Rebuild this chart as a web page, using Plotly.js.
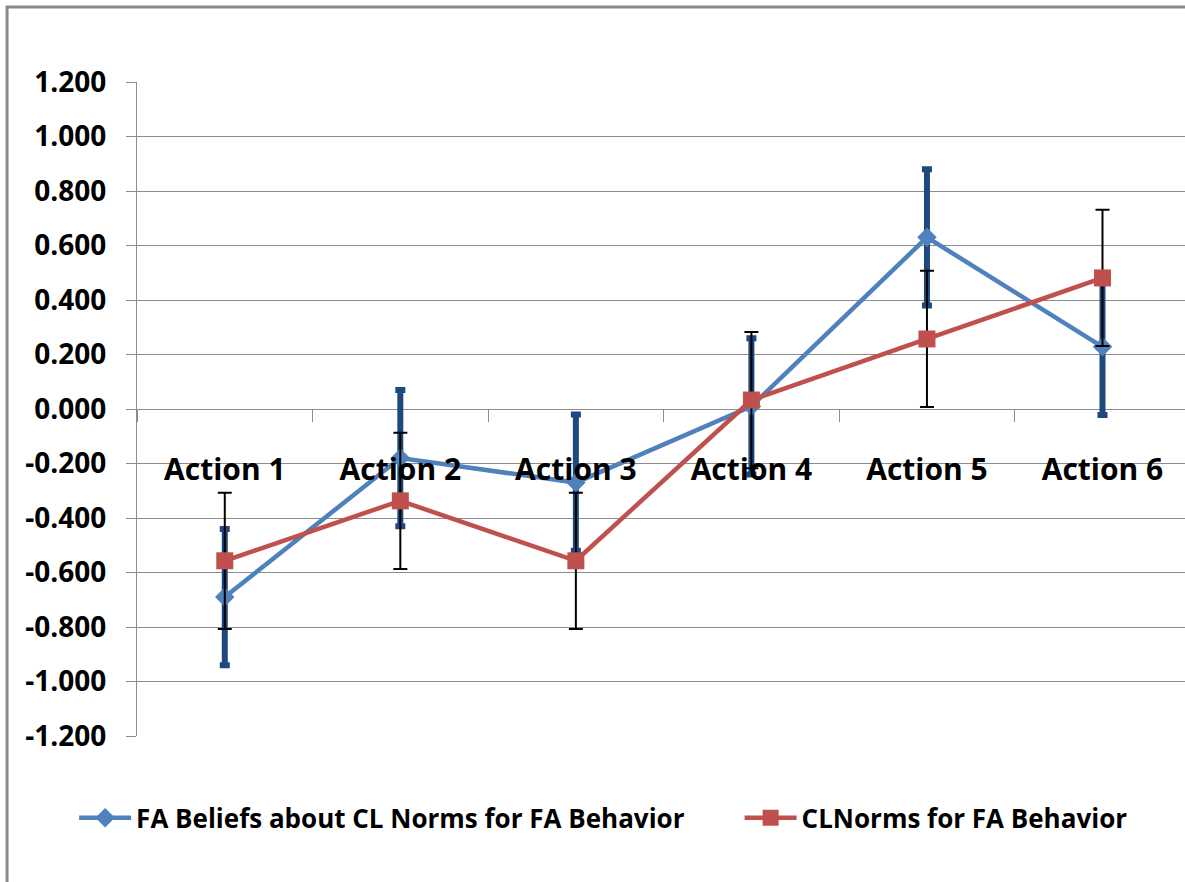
<!DOCTYPE html>
<html>
<head>
<meta charset="utf-8">
<script src="https://cdn.plot.ly/plotly-3.0.1.min.js"></script>
<style>
  html, body { margin: 0; padding: 0; background: #ffffff; }
  #chart { width: 1185px; height: 882px; }
</style>
</head>
<body>
<div id="chart"></div>
<script>
// ---- data ----
const categories = ["Action 1", "Action 2", "Action 3", "Action 4", "Action 5", "Action 6"];
const seriesNames = ["FA Beliefs about CL Norms for FA Behavior", "CLNorms for FA Behavior"];
const beliefValues = [-0.690, -0.180, -0.270, 0.010, 0.630, 0.228];
const beliefErrors = [0.25, 0.25, 0.25, 0.25, 0.25, 0.25];
const normValues = [-0.557, -0.337, -0.557, 0.033, 0.257, 0.481];
const normErrors = [0.25, 0.25, 0.25, 0.25, 0.25, 0.25];
const yTickVals = [-1.2, -1.0, -0.8, -0.6, -0.4, -0.2, 0.0, 0.2, 0.4, 0.6, 0.8, 1.0, 1.2];
const yTickText = ["-1.200", "-1.000", "-0.800", "-0.600", "-0.400", "-0.200", "0.000",
                   "0.200", "0.400", "0.600", "0.800", "1.000", "1.200"];

const FONT = "'Open Sans', Lato, sans-serif";
const GRID = "#8c8c8c";

const traces = [
  {
    type: "scatter", mode: "lines+markers", name: seriesNames[0],
    x: categories, y: beliefValues, legend: "legend",
    line: { color: "#4F81BD", width: 4.5 },
    marker: { symbol: "diamond", size: 15, color: "#4F81BD" },
    error_y: { type: "data", array: beliefErrors, visible: true,
               color: "#1F497D", thickness: 6, width: 5 }
  },
  {
    type: "scatter", mode: "lines+markers", name: seriesNames[1],
    x: categories, y: normValues, legend: "legend2",
    line: { color: "#C0504D", width: 4.5 },
    marker: { symbol: "square", size: 17, color: "#C0504D" },
    error_y: { type: "data", array: normErrors, visible: true,
               color: "#000000", thickness: 2, width: 7 }
  }
];

const legendFont = { family: FONT, size: 26, weight: "bold", color: "#000000" };

const layout = {
  width: 1185, height: 882,
  margin: { l: 137, r: 0, t: 82, b: 146, pad: 0 },
  paper_bgcolor: "#ffffff", plot_bgcolor: "#ffffff",
  font: { family: FONT, color: "#000000" },
  showlegend: true,
  legend: {
    orientation: "h", x: -0.06, xanchor: "left", y: -0.125, yanchor: "middle",
    font: legendFont, itemwidth: 52
  },
  legend2: {
    orientation: "h", x: 0.575, xanchor: "left", y: -0.125, yanchor: "middle",
    font: legendFont, itemwidth: 52
  },
  xaxis: {
    type: "category", range: [-0.5, 5.47],
    anchor: "free", position: 0.5,
    showgrid: false, zeroline: false, showline: false,
    tickson: "boundaries", ticks: "outside", ticklen: 12, tickwidth: 1, tickcolor: GRID,
    ticklabelstandoff: 40,
    tickfont: { family: FONT, size: 30, weight: "bold", color: "#000000" }
  },
  yaxis: {
    range: [-1.2, 1.2],
    tickmode: "array", tickvals: yTickVals, ticktext: yTickText,
    showgrid: true, gridcolor: GRID, gridwidth: 1,
    zeroline: false, showline: true, linecolor: GRID, linewidth: 1,
    ticks: "outside", ticklen: 10, tickwidth: 1, tickcolor: GRID,
    ticklabelstandoff: 14,
    tickfont: { family: FONT, size: 28, weight: "bold", color: "#000000" }
  },
  shapes: [
    { type: "rect", xref: "paper", yref: "paper",
      x0: -0.124, x1: 1.08, y0: -0.3, y1: 1.1147,
      line: { color: "#8a8a8a", width: 3 }, fillcolor: "rgba(0,0,0,0)", layer: "below" }
  ]
};

Plotly.newPlot("chart", traces, layout, { displayModeBar: false, staticPlot: true });
</script>
</body>
</html>
